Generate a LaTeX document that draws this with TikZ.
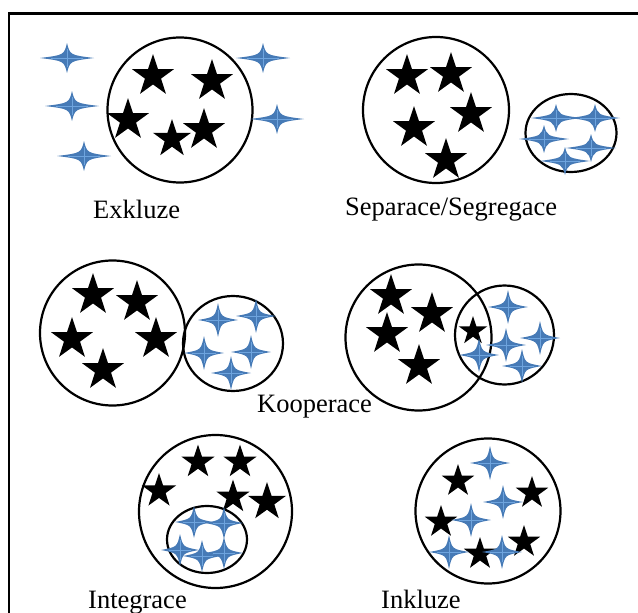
\documentclass[tikz,border=0pt]{standalone}
\usepackage{fontspec}
\setmainfont{Liberation Serif}
\usetikzlibrary{shapes.geometric}
\definecolor{sparkblue}{RGB}{70,122,182}
\definecolor{sparklight}{RGB}{110,164,222}
\tikzset{
    ring/.style={draw, line width=2.2pt, circle, inner sep=0pt},
    oval/.style={draw, line width=2.2pt, ellipse, inner sep=0pt},
    blackstar/.style={star, star points=5, star point ratio=2.6, fill=black, inner sep=0pt, minimum size=#1},
    blackstar/.default=44,
    namelbl/.style={anchor=base west, inner sep=0pt, font=\fontsize{26.5}{30}\selectfont}
}
\newcommand\spark[4]{%
    \fill[sparkblue] (#1+#3,#2) .. controls (#1+3,#2+3) and (#1+3,#2+3) .. (#1,#2+#4)
        .. controls (#1-3,#2+3) and (#1-3,#2+3) .. (#1-#3,#2)
        .. controls (#1-3,#2-3) and (#1-3,#2-3) .. (#1,#2-#4)
        .. controls (#1+3,#2-3) and (#1+3,#2-3) .. (#1+#3,#2) -- cycle;
    \draw[sparklight, line width=.8pt] (#1-.6*#3,#2)--(#1+.6*#3,#2) (#1,#2-.6*#4)--(#1,#2+.6*#4);
}
\begin{document}
\begin{tikzpicture}[x=1pt, y=-1pt]
\useasboundingbox (0,0) rectangle (638,613);
\draw[line width=2.5pt] (9,613)--(9,13.5)--(638,13.5);

% Exkluze
\node[ring, minimum size=145] (exk) at (180,110) {};
\foreach \x/\y/\s [count=\i] in {153/76/44, 212/81/44, 128/120/44, 172/139/40, 204/130/44}
{
    \node[blackstar=\s] (exk-s\i) at (\x,\y) {};
}
\foreach \x/\y in {67/58, 72/106, 84/156, 263/58, 277/119}
{
    \spark{\x}{\y}{27}{15}
}
\node[namelbl] (exk-lbl) at (93,218) {Exkluze};

% Separace
\node[ring, minimum size=146] (sep) at (436,110) {};
\node[oval, minimum width=91, minimum height=78] (sep-b) at (571,133) {};
\foreach \x/\y [count=\i] in {407/76, 451/74, 471/114, 414/128, 446/160}
{
    \node[blackstar] (sep-s\i) at (\x,\y) {};
}
\foreach \x/\y in {556/118, 595/118, 544/139, 591/148, 565/161}
{
    \spark{\x}{\y}{25}{14}
}
\node[namelbl] (sep-lbl) at (345,215) {Separace/Segregace};

% Kooperace
\node[ring, minimum size=145] (koo) at (112.5,333) {};
\node[oval, minimum width=100, minimum height=95] (koo-b) at (233,343.5) {};
\foreach \x/\y [count=\i] in {93/295, 137/302, 72/339, 156/339, 103/370}
{
    \node[blackstar] (koo-s\i) at (\x,\y) {};
}
\foreach \x/\y in {218/320, 256/316, 204/353, 251/352, 231/373}
{
    \spark{\x}{\y}{20}{17}
}

\node[ring, minimum size=146] (kov) at (418.5,337.5) {};
\node[ring, minimum size=99] (kov-b) at (504.5,335) {};
\foreach \x/\y/\s [count=\i] in {391/296/44, 432/314/44, 387/334/44, 419/366/44, 473/331/30}
{
    \node[blackstar=\s] (kov-s\i) at (\x,\y) {};
}
\foreach \x/\y in {508/307, 540/338, 506/345, 479/355, 522/366}
{
    \spark{\x}{\y}{20}{17}
}
\node[namelbl] (koo-lbl) at (257,412) {Kooperace};

% Integrace
\node[ring, minimum size=153] (int) at (215.5,511.5) {};
\node[oval, minimum width=80, minimum height=67] (int-b) at (207,539.5) {};
\foreach \x/\y/\s [count=\i] in {198/462/35, 240/462/35, 159/491/36, 233/497/35, 267/502/40}
{
    \node[blackstar=\s] (int-s\i) at (\x,\y) {};
}
\foreach \x/\y in {194/522, 224/523, 180/550, 202/556, 224/553}
{
    \spark{\x}{\y}{19}{16}
}
\node[namelbl] (int-lbl) at (88,608) {Integrace};

% Inkluze
\node[ring, minimum size=145] (ink) at (488,511) {};
\foreach \x/\y [count=\i] in {458/481, 532/493, 441/522, 524/542, 480/554}
{
    \node[blackstar=34] (ink-s\i) at (\x,\y) {};
}
\foreach \x/\y in {490/463, 503/502, 471/520, 449/552, 502/552}
{
    \spark{\x}{\y}{20}{17}
}
\node[namelbl] (ink-lbl) at (381,608) {Inkluze};

\end{tikzpicture}
\end{document}
